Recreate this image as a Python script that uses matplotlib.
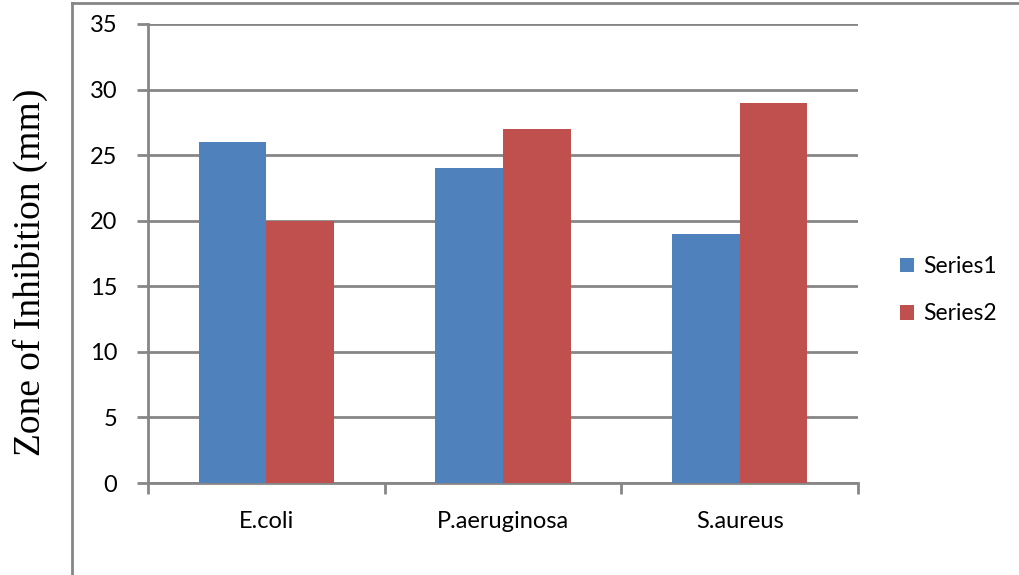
import numpy as np
import matplotlib.pyplot as plt
from matplotlib.lines import Line2D

categories = ["E.coli", "P.aeruginosa", "S.aureus"]
series1 = [26, 24, 19]
series2 = [20, 27, 29]
series_names = ["Series1", "Series2"]
yticks = [0, 5, 10, 15, 20, 25, 30, 35]

blue = "#4F81BD"
red = "#C0504D"
grid_col = "#868686"
label_font = ["Lato", "DejaVu Sans"]

fig = plt.figure(figsize=(10.2, 5.75), dpi=100)
ax = fig.add_axes([148 / 1020, 1 - 483 / 575, 710 / 1020, 459 / 575])

x = np.arange(len(categories))
w = 1 / 3.5
b1 = ax.bar(x - w / 2, series1, w, color=blue, label=series_names[0], zorder=3)
b2 = ax.bar(x + w / 2, series2, w, color=red, label=series_names[1], zorder=3)

ax.set_xlim(-0.5, 2.5)
ax.set_ylim(0, 35)
ax.set_yticks(yticks)
ax.set_yticklabels([str(v) for v in yticks], fontsize=17, family=label_font)
ax.yaxis.grid(True, color=grid_col, linewidth=2, zorder=0)

# category labels between boundary ticks
ax.set_xticks([-0.5, 0.5, 1.5, 2.5])
ax.set_xticklabels([])
ax.set_xticks(x, minor=True)
ax.set_xticklabels(categories, minor=True, fontsize=17, family=label_font)
ax.tick_params(axis="x", which="minor", length=0, pad=20)
ax.tick_params(axis="x", which="major", length=8, width=2, color=grid_col)
ax.tick_params(axis="y", length=8, width=2, color=grid_col, pad=14)

for s in ["top", "right"]:
    ax.spines[s].set_visible(False)
for s in ["left", "bottom"]:
    ax.spines[s].set_color(grid_col)
    ax.spines[s].set_linewidth(2)

fig.text(30 / 1020, 1 - 272 / 575, "Zone of Inhibition (mm)", rotation=90,
         ha="center", va="center", fontsize=27, family="Liberation Serif")

ax.legend(handles=[b1, b2], loc="center left", bbox_to_anchor=(1.03, 0.42),
          frameon=False, prop={"family": label_font, "size": 16.5},
          handlelength=0.6, handleheight=0.6, handletextpad=0.4, labelspacing=1.15)

# chart area frame (left and top edges)
fig.add_artist(Line2D([72 / 1020, 72 / 1020], [0, 1 - 3 / 575], color=grid_col, linewidth=2))
fig.add_artist(Line2D([72 / 1020, 1], [1 - 3 / 575, 1 - 3 / 575], color=grid_col, linewidth=2))

fig.savefig("out.png", dpi=100, facecolor="white")
